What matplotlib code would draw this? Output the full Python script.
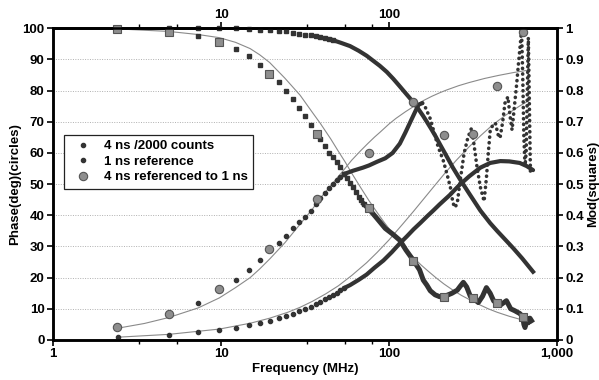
import matplotlib.pyplot as plt
from matplotlib.lines import Line2D
from matplotlib.ticker import FixedLocator, FixedFormatter, NullFormatter

plt.rcParams["font.family"] = ["Liberation Sans", "DejaVu Sans"]
plt.rcParams["font.weight"] = "bold"
plt.rcParams["font.size"] = 9.5

# %%
### ---------- data ---------- ###
# 4 ns referenced to 1 ns (large grey circles = phase, squares = mod)
ref_freq = [2.39, 4.92, 9.77, 19.4, 37.4, 76.3, 139, 212, 318, 438, 625]
ref_phase = [4.2, 8.3, 16.2, 29.1, 45.1, 59.9, 76.4, 65.8, 66.1, 81.5, 98.9]
ref_mod = [0.998, 0.989, 0.957, 0.855, 0.661, 0.4225, 0.254, 0.139, 0.136, 0.118, 0.075]

# 4 ns /2000 counts, phase: discrete points, then dense solid, then noisy dotted
p4_freq = [2.44, 4.88, 7.32, 9.77, 12.2, 14.65, 17.1, 19.5, 22.0, 24.4, 26.9,
           29.3, 31.7, 34.2, 36.6, 39.1, 41.5, 43.9, 46.4, 48.8, 51.3, 53.7]
p4_phase = [4.3, 8.3, 12.0, 16.0, 19.3, 22.5, 25.7, 29.0, 31.0, 33.5, 35.8,
            37.7, 39.5, 41.5, 43.5, 45.5, 47.3, 48.8, 50.0, 51.3, 52.3, 53.2]
p4_dense_freq = [53.7, 61, 70, 76, 85, 95, 105, 116, 125, 133, 143, 150, 158]
p4_dense_phase = [53.2, 54.3, 55.3, 56.0, 57.2, 58.3, 60.0, 63.0, 66.5, 69.6, 73.2, 75.5, 76.0]
p4_noisy_freq = [158, 165, 176, 186, 196, 210, 222, 233, 240, 247, 255, 265, 280,
                 295, 310, 320, 335, 350, 368, 380, 390, 400, 415, 430, 445, 458,
                 475, 490, 510, 525, 540, 555, 575, 590, 605, 615, 625, 635, 645,
                 655, 665, 675, 685, 695]
p4_noisy_phase = [76, 74.5, 71, 66.4, 62, 57.7, 53, 48.5, 44, 42.5, 44, 51, 60,
                  65, 68, 63, 55, 49, 44.5, 52, 60, 67, 69, 69.6, 66, 64.8,
                  70, 76, 78, 72, 67.4, 73.8, 82, 88.8, 95, 99.5, 85, 65, 56,
                  60, 78, 97, 75, 53]

# 4 ns /2000 counts, modulation
m4_freq = [2.44, 4.88, 7.32, 9.77, 12.2, 14.65, 17.1, 19.5, 22.0, 24.4, 26.9,
           29.3, 31.7, 34.2, 36.6, 39.1, 41.5, 43.9, 46.4, 48.8, 51.3, 53.7,
           56.2, 58.6, 61.0, 63.5, 65.9, 68.4, 70.8]
m4_mod = [1.0, 0.99, 0.975, 0.955, 0.934, 0.91, 0.881, 0.855, 0.828, 0.80, 0.772,
          0.744, 0.719, 0.69, 0.665, 0.645, 0.622, 0.601, 0.586, 0.57, 0.556, 0.533,
          0.52, 0.505, 0.49, 0.476, 0.46, 0.448, 0.436]
m4_dense_freq = [70.8, 76, 83, 95, 105, 116, 126, 139, 152, 160, 168, 176, 188,
                 200, 212, 237, 255, 265, 277, 290, 305, 318, 340, 360, 380, 400,
                 420, 438, 460, 500, 530, 560, 600, 625, 635, 645, 660, 675, 690, 705]
m4_dense_mod = [0.436, 0.42, 0.396, 0.358, 0.34, 0.32, 0.289, 0.257, 0.225, 0.192,
                0.176, 0.158, 0.145, 0.139, 0.139, 0.15, 0.16, 0.172, 0.185, 0.17,
                0.14, 0.136, 0.12, 0.14, 0.168, 0.15, 0.125, 0.118, 0.112, 0.126,
                0.1, 0.094, 0.085, 0.075, 0.05, 0.04, 0.07, 0.055, 0.07, 0.062]

# 1 ns reference, phase
p1_freq = [2.44, 4.88, 7.32, 9.77, 12.2, 14.65, 17.1, 19.5, 22.0, 24.4, 26.9,
           29.3, 31.7, 34.2, 36.6, 39.1, 41.5, 43.9, 46.4, 48.8, 51.3, 53.7]
p1_phase = [1.0, 1.6, 2.5, 3.3, 4.0, 4.8, 5.4, 6.2, 6.9, 7.7, 8.4,
            9.2, 10.0, 10.7, 11.5, 12.3, 13.1, 13.8, 14.5, 15.2, 16.0, 16.6]
p1_dense_freq = [53.7, 58.6, 66, 73.6, 82, 92.6, 104, 116, 128, 140, 154, 168,
                 184, 200, 230, 260, 300, 350, 400, 460, 520, 600, 660, 720]
p1_dense_phase = [16.6, 17.6, 19.3, 21, 23.2, 25.5, 28.2, 31, 33.3, 35.5, 37.6, 39.6,
                  41.6, 43.5, 46.5, 49.5, 52.5, 55.3, 56.8, 57.4, 57.3, 56.8, 55.8, 54.5]

# 1 ns reference, modulation
m1_freq = [2.44, 4.88, 7.32, 9.77, 12.2, 14.65, 17.1, 19.5, 22.0, 24.4, 26.9,
           29.3, 31.7, 34.2, 36.6, 39.1, 41.5, 43.9, 46.4]
m1_mod = [1.0, 1.0, 1.0, 1.0, 1.0, 0.998, 0.995, 0.995, 0.99, 0.99, 0.986,
          0.982, 0.98, 0.978, 0.975, 0.972, 0.969, 0.966, 0.962]
m1_dense_freq = [46.4, 52, 58.6, 66, 73.6, 80, 88, 97, 106, 115, 125, 133, 142,
                 150, 160, 168, 178, 190, 200, 220, 240, 265, 300, 350, 400, 440,
                 500, 550, 620, 720]
m1_dense_mod = [0.962, 0.953, 0.943, 0.928, 0.912, 0.897, 0.88, 0.86, 0.838, 0.816,
                0.793, 0.776, 0.757, 0.74, 0.718, 0.7, 0.678, 0.652, 0.63, 0.59,
                0.553, 0.515, 0.47, 0.415, 0.375, 0.35, 0.318, 0.294, 0.262, 0.219]

# fitted curves (thin grey lines)
fit4_phase_freq = [2.44, 3.5, 4.88, 7.32, 9.77, 12.2, 14.9, 17, 19.5, 24, 29.6, 35,
                   39, 45, 50, 55, 60, 68, 75, 82, 88.6, 100, 110, 125, 139, 160,
                   180, 200, 220, 260, 300, 370, 450, 550, 680]
fit4_phase = [3.8, 5.3, 7.2, 10.3, 13.5, 16.8, 20, 22.8, 26, 31.2, 37.2, 42,
              45.5, 49.5, 52.5, 55.2, 57.7, 60.8, 63.1, 65.1, 66.7, 69.3, 71.1, 73.2,
              74.8, 76.8, 78.2, 79.3, 80.2, 81.6, 82.6, 83.9, 84.9, 85.8, 86.6]
fit1_phase_freq = [2.44, 4.88, 9.77, 15, 19.5, 25, 29.6, 35, 42, 50, 60, 73.6, 85,
                   100, 122, 140, 168, 190, 215, 250, 300, 350, 400, 450, 500, 600, 690]
fit1_phase = [0.9, 1.8, 3.5, 5.4, 7.0, 8.9, 10.5, 12.4, 14.8, 17.4, 20.7, 24.8, 28.1,
              32.1, 37.5, 41.3, 46.5, 50, 53.5, 57.5, 62, 65.5, 68.3, 70.5, 72.3,
              75.1, 77]
fit4_mod_freq = [2.44, 4.88, 7.32, 9.77, 12.2, 14.9, 17, 19.5, 24, 29.6, 35, 39, 45,
                 50, 55, 60, 68, 76, 84, 92, 104, 116, 128, 139, 155, 170, 190, 212,
                 240, 270, 300, 340, 390, 440, 520, 625]
fit4_mod = [0.998, 0.99, 0.98, 0.97, 0.955, 0.935, 0.915, 0.89, 0.84, 0.785, 0.73,
            0.695, 0.645, 0.605, 0.57, 0.535, 0.488, 0.447, 0.413, 0.383, 0.345,
            0.313, 0.287, 0.266, 0.241, 0.222, 0.2, 0.18, 0.16, 0.143, 0.13, 0.115,
            0.1, 0.089, 0.076, 0.064]

legend_labels = ["4 ns /2000 counts", "1 ns reference", "4 ns referenced to 1 ns"]
x_ticks = [1, 10, 100, 1000]
x_ticklabels = ["1", "10", "100", "1,000"]
x_minor = [3.25, 5.5, 32.5, 55, 79]
### -------------------------------------------- ###

dark = "#333333"
grey_fill = "#8e8e8e"
grey_edge = "#555555"
fit_col = "#8a8a8a"

fig = plt.figure(figsize=(5.99, 3.8), dpi=100)
ax = fig.add_axes([0.0885, 0.1053, 0.8414, 0.8202])
ax2 = ax.twinx()
ax.set_xscale("log")
ax.set_xlim(1, 1000)
ax.set_ylim(0, 100)
ax2.set_ylim(0, 1)
tm = ax2.transData  # modulation values drawn on the right-hand scale

ax.yaxis.grid(True, linestyle=(0, (1, 1.5)), color="#b0b0b0", linewidth=0.7)
ax.set_axisbelow(True)

# fits
ax.plot(fit4_phase_freq, fit4_phase, color=fit_col, lw=0.8, zorder=2)
ax.plot(fit1_phase_freq, fit1_phase, color=fit_col, lw=0.8, zorder=2)
ax.plot(fit4_mod_freq, fit4_mod, color=fit_col, lw=0.8, zorder=2, transform=tm)

# 1 ns reference
ax.plot(p1_freq, p1_phase, "o", ms=3, color=dark, mec=dark, zorder=3)
ax.plot(p1_dense_freq, p1_dense_phase, "-", lw=3.0, color=dark, zorder=3,
        solid_capstyle="round")
ax.plot(m1_freq, m1_mod, "s", ms=3, color=dark, mec=dark, zorder=3, transform=tm,
        clip_on=False)
ax.plot(m1_dense_freq, m1_dense_mod, "-", lw=3.0, color=dark, zorder=3,
        transform=tm)

# 4 ns /2000 counts
ax.plot(p4_freq, p4_phase, "o", ms=3, color=dark, mec=dark, zorder=3)
ax.plot(p4_dense_freq, p4_dense_phase, "-", lw=3.0, color=dark, zorder=3,
        solid_capstyle="round")
ax.plot(p4_noisy_freq, p4_noisy_phase, color=dark, lw=2.6, zorder=3,
        linestyle=(0, (0.05, 1.5)), dash_capstyle="round")
ax.plot(m4_freq, m4_mod, "s", ms=3.2, color=dark, mec=dark, zorder=3,
        transform=tm, clip_on=False)
ax.plot(m4_dense_freq, m4_dense_mod, "-", lw=3.6, color=dark, zorder=3,
        transform=tm)

# 4 ns referenced to 1 ns
ax.plot(ref_freq, ref_phase, "o", ms=6, color=grey_fill, mec=grey_edge, mew=0.8,
        zorder=4, clip_on=False)
ax.plot(ref_freq, ref_mod, "s", ms=6, color=grey_fill, mec=grey_edge, mew=0.8,
        zorder=4, transform=tm, clip_on=False)

# axes styling
for a in (ax, ax2):
    for s in a.spines.values():
        s.set_linewidth(1.8)
        s.set_color("black")
ax.xaxis.set_major_locator(FixedLocator(x_ticks))
ax.xaxis.set_major_formatter(FixedFormatter(x_ticklabels))
ax.xaxis.set_minor_locator(FixedLocator(x_minor))
ax.xaxis.set_minor_formatter(NullFormatter())
ax.set_yticks(range(0, 101, 10))
ax2.set_yticks([i / 10 for i in range(11)])
ax2.set_yticklabels(["0"] + [f"0.{i}" for i in range(1, 10)] + ["1"])
ax.tick_params(axis="both", which="major", direction="out", length=4, width=1.2,
               labelsize=9.5, pad=2)
ax.tick_params(axis="x", which="minor", direction="out", length=3, width=1.0)
ax2.tick_params(axis="y", direction="out", length=4, width=1.2, labelsize=9.5, pad=2)

top = ax.secondary_xaxis("top")
top.xaxis.set_major_locator(FixedLocator([10, 100]))
top.xaxis.set_major_formatter(FixedFormatter(["10", "100"]))
top.xaxis.set_minor_locator(FixedLocator(x_minor))
top.xaxis.set_minor_formatter(NullFormatter())
top.tick_params(axis="x", which="major", direction="out", length=4, width=1.2,
                labelsize=9.5, pad=1)
top.tick_params(axis="x", which="minor", direction="out", length=3, width=1.0)
top.spines["top"].set_linewidth(1.8)

ax.set_xlabel("Frequency (MHz)", fontsize=9.5, fontweight="bold", labelpad=2)
ax.set_ylabel("Phase(deg)(circles)", fontsize=9.5, fontweight="bold", labelpad=1)
ax2.set_ylabel("Mod(squares)", fontsize=9.5, fontweight="bold", labelpad=2)

handles = [
    Line2D([], [], marker="o", ls="none", ms=3, color=dark),
    Line2D([], [], marker="o", ls="none", ms=3, color=dark),
    Line2D([], [], marker="o", ls="none", ms=6, color=grey_fill, mec=grey_edge, mew=0.8),
]
leg = ax2.legend(handles, legend_labels, loc="upper left",
                 bbox_to_anchor=(0.022, 0.658), frameon=True, fancybox=False,
                 edgecolor="#222222", framealpha=1, fontsize=9.5, borderpad=0.4,
                 handlelength=2.0, handletextpad=0.6, labelspacing=0.25,
                 borderaxespad=0)
leg.get_frame().set_linewidth(0.9)
for t in leg.get_texts():
    t.set_fontweight("bold")

fig.savefig("out.png", dpi=100)
